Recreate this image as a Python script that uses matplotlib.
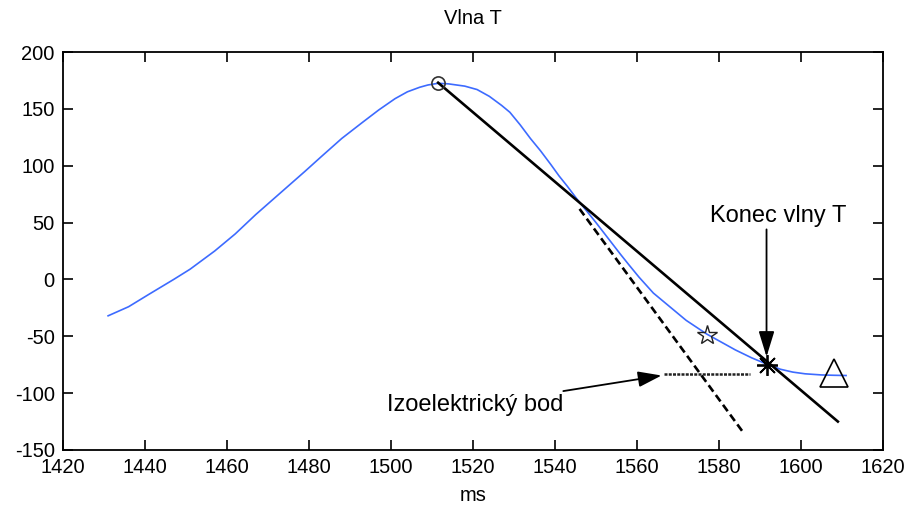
import matplotlib
matplotlib.use("Agg")
import matplotlib.pyplot as plt
import numpy as np

plt.rcParams['font.family'] = ['Liberation Sans', 'DejaVu Sans']
plt.rcParams['axes.unicode_minus'] = False

# T-wave curve (ms, amplitude)
t_ms = [1431, 1436, 1441, 1447, 1451, 1457, 1462, 1467, 1473, 1479, 1483, 1488,
        1493, 1497, 1501, 1504, 1507, 1509, 1511.5, 1514, 1518, 1521, 1524, 1527, 1529,
        1531.5, 1534, 1536.5, 1539, 1541, 1543, 1545.3, 1548, 1550, 1553, 1556, 1558,
        1560.5, 1564, 1568, 1572, 1577, 1581, 1584, 1588, 1592, 1595, 1598, 1601,
        1605, 1608, 1611]
amp = [-32, -24, -13, 0, 9, 25, 40, 57, 76, 95, 108, 124,
       138, 149, 159, 165, 169, 171, 172.5, 172, 170, 167, 161, 153, 147,
       136, 124, 113, 101, 91, 82, 71, 59, 50, 36, 22, 13,
       2, -12, -24, -36, -48, -56, -62, -69, -75, -79, -81.5, -83,
       -84, -84.3, -84.5]

# Construction lines
peak_line_x = [1511.5, 1609]
peak_line_y = [173, -125]
tangent_x = [1546, 1586]
tangent_y = [62, -135]
iso_x = [1566.5, 1587.5]
iso_y = [-83.5, -83.5]

# Markers
circle_pt = (1511.5, 173)
star_pt = (1577, -49)
end_pt = (1591.6, -75)
tri_pt = (1608, -82)

fig = plt.figure(figsize=(9.21, 5.08), dpi=100)
ax = fig.add_axes([0.0684, 0.1142, 0.8903, 0.7834])

ax.plot(t_ms, amp, color='#3d6bff', lw=1.2, zorder=2)
ax.plot(peak_line_x, peak_line_y, color='black', lw=1.9, zorder=3)
ax.plot(tangent_x, tangent_y, color='black', lw=1.9, ls=(0, (3, 1.6)), zorder=3)
ax.plot(iso_x, iso_y, color='#222222', lw=1.8, ls=(0, (1.2, 0.5)), zorder=3)

ax.plot(*circle_pt, marker='o', ms=9.5, mfc='none', mec='#333333', mew=1.2, zorder=4)
ax.plot(*star_pt, marker='*', ms=15, mfc='none', mec='#222222', mew=1.0, zorder=4)
ax.plot(*end_pt, marker=(8, 2, 0), ms=15, mec='black', mew=1.3, zorder=4)
ax.plot(*tri_pt, marker='^', ms=20, mfc='none', mec='black', mew=1.2, zorder=4)

fs = 14.5
afs = 17
ax.text(1594.5, 46, 'Konec vlny T', ha='center', va='bottom', fontsize=afs)
ax.annotate('', xy=(1591.6, -68), xytext=(1591.6, 44),
            arrowprops=dict(arrowstyle='-|>,head_length=1.3,head_width=0.4',
                            color='black', lw=1.3,
                            mutation_scale=12, shrinkA=0, shrinkB=0))
ax.annotate('Izoelektrický bod', xy=(1566, -84.5), xytext=(1542, -110.5),
            ha='right', va='center', fontsize=afs,
            arrowprops=dict(arrowstyle='-|>,head_length=1.2,head_width=0.4',
                            color='black', lw=1.3,
                            mutation_scale=12, shrinkA=1, shrinkB=0))

ax.set_xlim(1420, 1620)
ax.set_ylim(-150, 200)
ax.set_xticks(np.arange(1420, 1621, 20))
ax.set_yticks(np.arange(-150, 201, 50))
ax.tick_params(direction='in', length=7, width=1.2, top=True, right=True,
               labelsize=fs, pad=6)
for s in ax.spines.values():
    s.set_linewidth(1.3)

ax.set_title('Vlna T', fontsize=fs, pad=20)
ax.set_xlabel('ms', fontsize=fs, labelpad=6)

fig.savefig('out.png', dpi=100)
